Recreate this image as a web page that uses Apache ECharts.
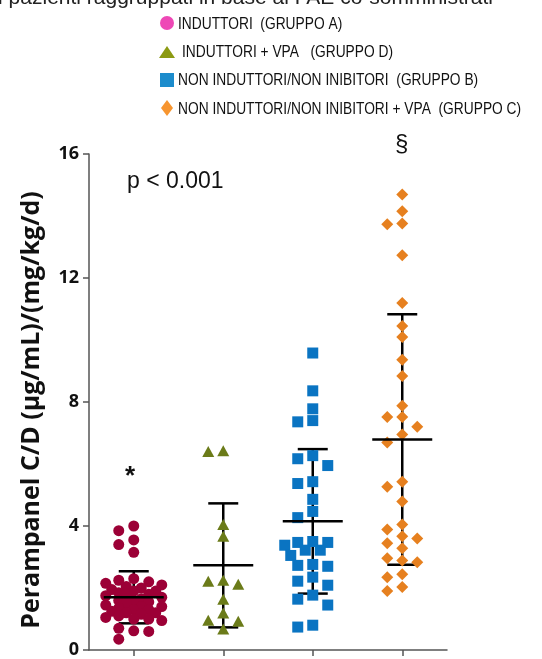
<!DOCTYPE html>
<html lang="it" style="height: 100%">
<head>
  <meta charset="utf-8">
</head>
<body style="height: 100%; margin: 0; background: #fff">
  <div id="container" style="height: 100%"></div>

  <script type="text/javascript" src="https://cdn.jsdelivr.net/npm/echarts@6/dist/echarts.min.js"></script>
  <script type="text/javascript">
// groups, left to right on the x axis
var groupNames = [
  'INDUTTORI  (GRUPPO A)',
  'INDUTTORI + VPA   (GRUPPO D)',
  'NON INDUTTORI/NON INIBITORI  (GRUPPO B)',
  'NON INDUTTORI/NON INIBITORI + VPA  (GRUPPO C)'
];
// C/D values
var groupA = [4.0, 3.85, 3.55, 3.4, 3.15, 2.3, 2.25, 2.2, 2.15, 2.1, 2.05, 2.0, 1.95, 1.9, 1.9,
  1.85, 1.8, 1.8, 1.75, 1.7, 1.65, 1.6, 1.6, 1.55, 1.5, 1.45, 1.4, 1.4, 1.35, 1.3, 1.3, 1.25,
  1.2, 1.2, 1.15, 1.1, 1.05, 1.0, 1.0, 0.95, 0.7, 0.62, 0.6, 0.35];
var groupD = [6.43, 6.40, 4.05, 3.67, 2.25, 2.22, 2.12, 1.64, 1.19, 0.96, 0.93, 0.68];
var groupB = [9.58, 8.36, 7.78, 7.40, 7.36, 6.27, 6.17, 5.95, 5.43, 5.37, 4.86, 4.47, 4.27,
  3.50, 3.47, 3.47, 3.38, 3.22, 3.22, 3.05, 2.76, 2.73, 2.70, 2.35, 2.22, 2.09, 1.77, 1.64,
  1.45, 0.80, 0.74];
var groupC = [14.69, 14.15, 13.76, 13.73, 12.73, 11.19, 10.45, 10.10, 9.36, 8.84, 7.88, 7.52,
  7.52, 7.20, 6.95, 6.69, 5.43, 5.27, 4.79, 4.05, 3.89, 3.67, 3.60, 3.44, 3.28, 2.96, 2.89,
  2.83, 2.44, 2.35, 2.03, 1.90];
// mean and SD
var means = [1.70, 2.73, 4.15, 6.79];
var sds = [0.84, 2.00, 2.33, 4.04];
var yTicks = [0, 4, 8, 12, 16];

var plotColors = ['#9c0036', '#6b7b19', '#0a74c2', '#e6801f'];
var legendColors = ['#ee48b6', '#8c9a12', '#1c8ccc', '#f7952f'];
var symbols = ['circle', 'triangle', 'rect', 'diamond'];
var symbolSizes = [11, [12, 11], 11, 12];

var dom = document.getElementById('container');
var myChart = echarts.init(dom, null, { renderer: 'canvas' });

// plot area in pixels (used to spread equal values sideways)
var gridLeft = 89, gridRight = 95, gridTop = 154, gridBottom = 7;
var pxPerX = (542 - gridLeft - gridRight) / 4;
var pxPerY = (659 - gridTop - gridBottom) / 16;

function swarm(values, center) {
  var offsets = [0, -15, 15, -7.5, 7.5, -22, 22, -28, 28];
  var placed = [];
  return values.map(function (v) {
    var py = v * pxPerY;
    var best = 0, bestDist = -1;
    for (var k = 0; k < offsets.length; k++) {
      var d = Infinity;
      placed.forEach(function (p) {
        d = Math.min(d, Math.hypot(p[0] - offsets[k], p[1] - py));
      });
      if (d >= 10) { best = offsets[k]; bestDist = d; break; }
      if (d > bestDist) { bestDist = d; best = offsets[k]; }
    }
    placed.push([best, py]);
    return [center + best / pxPerX, v];
  });
}

var groups = [groupA, groupD, groupB, groupC];
var scatterSeries = groups.map(function (vals, i) {
  return {
    name: groupNames[i],
    type: 'scatter',
    z: 3,
    symbol: symbols[i],
    symbolSize: symbolSizes[i],
    itemStyle: { color: plotColors[i], opacity: 1 },
    data: swarm(vals, i + 1)
  };
});

var statData = means.map(function (m, i) { return [i + 1, m, sds[i]]; });

// legend drawn by hand: narrow text like the original
var legendIcons = [
  { type: 'circle', shape: { cx: 167, cy: 23, r: 7 } },
  { type: 'polygon', shape: { points: [[159, 58], [175, 58], [167, 46]] } },
  { type: 'rect', shape: { x: 160, y: 73, width: 14, height: 14 } },
  { type: 'polygon', shape: { points: [[167, 100], [173, 108], [167, 116], [161, 108]] } }
];
var legendGraphic = [];
groupNames.forEach(function (n, i) {
  var icon = legendIcons[i];
  icon.style = { fill: legendColors[i] };
  legendGraphic.push(icon);
  legendGraphic.push({
    type: 'text',
    x: i === 1 ? 182 : 178,
    y: 24 + 28.4 * i,
    scaleX: 0.81,
    style: { text: n, font: '17px Liberation Sans', fill: '#111', verticalAlign: 'middle' }
  });
});

var option = {
  animation: false,
  grid: { left: gridLeft, right: gridRight, top: gridTop, bottom: gridBottom },
  xAxis: {
    type: 'value',
    min: 0.5,
    max: 4.5,
    axisLine: { show: true, lineStyle: { color: '#555', width: 1.5 } },
    axisTick: { show: true, customValues: [1, 2, 3, 4], length: 6, lineStyle: { color: '#555', width: 1.5 } },
    axisLabel: { show: false },
    splitLine: { show: false }
  },
  yAxis: {
    type: 'value',
    min: 0,
    max: 16,
    interval: 4,
    name: 'Perampanel C/D (µg/mL)/(mg/kg/d)',
    nameLocation: 'middle',
    nameRotate: 90,
    nameGap: 45,
    nameTextStyle: { fontFamily: 'Open Sans', fontWeight: 'bold', fontSize: 25, color: '#111', padding: [0, 16, 0, 0] },
    axisLine: { show: true, lineStyle: { color: '#555', width: 1.5 } },
    axisTick: { show: true, length: 6, lineStyle: { color: '#555', width: 1.5 } },
    axisLabel: {
      margin: 10,
      fontFamily: 'Open Sans', fontWeight: 'bold', fontSize: 18, color: '#111',
      formatter: function (v) { return yTicks.indexOf(v) >= 0 ? String(v) : ''; }
    },
    splitLine: { show: false }
  },
  graphic: legendGraphic.concat([
    {
      type: 'text', right: 49, top: -12,
      style: { text: 'dei pazienti raggruppati in base ai FAE co-somministrati', font: '21px Liberation Sans', fill: '#222' }
    },
    {
      type: 'text', left: 127, top: 170,
      style: { text: 'p < 0.001', font: '23px Liberation Sans', fill: '#111' }
    },
    {
      type: 'text', left: 125, top: 464,
      style: { text: '*', font: 'bold 26px Liberation Sans', fill: '#111' }
    },
    {
      type: 'text', left: 395, top: 132,
      style: { text: '§', font: '24px Liberation Sans', fill: '#111' }
    }
  ]),
  series: [
    {
      type: 'custom',
      z: 2,
      data: statData,
      encode: { x: 0, y: 1 },
      renderItem: function (params, api) {
        var x = api.value(0), m = api.value(1), s = api.value(2);
        var top = api.coord([x, m + s]);
        var bot = api.coord([x, m - s]);
        var st = { stroke: '#000', lineWidth: 2.5 };
        return {
          type: 'group',
          children: [
            { type: 'line', shape: { x1: top[0], y1: top[1], x2: bot[0], y2: bot[1] }, style: st },
            { type: 'line', shape: { x1: top[0] - 15, y1: top[1], x2: top[0] + 15, y2: top[1] }, style: st },
            { type: 'line', shape: { x1: bot[0] - 15, y1: bot[1], x2: bot[0] + 15, y2: bot[1] }, style: st }
          ]
        };
      }
    }
  ].concat(scatterSeries, [
    {
      type: 'custom',
      z: 4,
      data: statData,
      encode: { x: 0, y: 1 },
      renderItem: function (params, api) {
        var c = api.coord([api.value(0), api.value(1)]);
        return {
          type: 'line',
          shape: { x1: c[0] - 30, y1: c[1], x2: c[0] + 30, y2: c[1] },
          style: { stroke: '#000', lineWidth: 2.5 }
        };
      }
    }
  ])
};

myChart.setOption(option);
window.addEventListener('resize', myChart.resize);
  </script>
</body>
</html>
